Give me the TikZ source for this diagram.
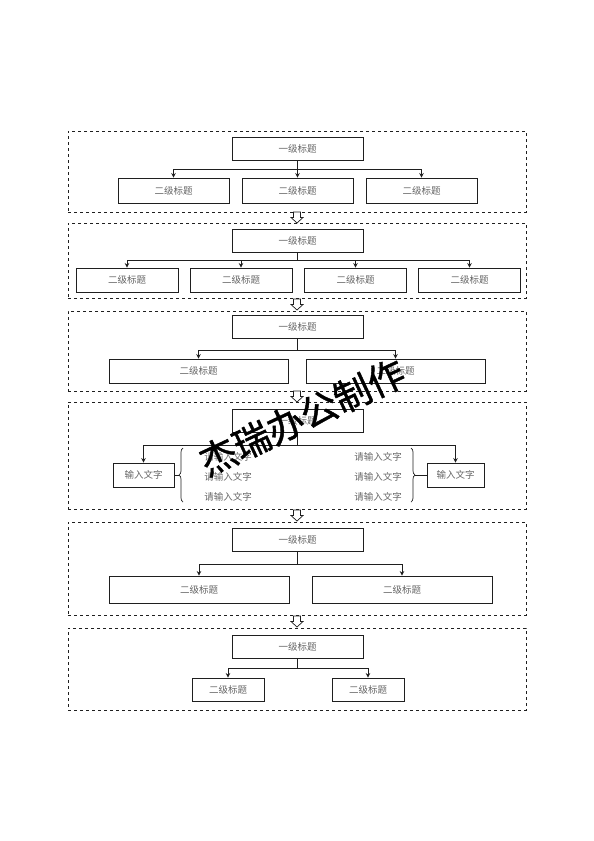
\documentclass[tikz,border=0pt]{standalone}
\usepackage{fontspec}
\newfontfamily\cjk{Noto Sans CJK SC}
\newfontfamily\stampfont{Noto Sans CJK SC}[FakeBold=1.2]
\usepackage{xcolor}
\usetikzlibrary{arrows.meta,calc,positioning,decorations.pathreplacing}
\definecolor{chartink}{gray}{0.12}
\definecolor{charttext}{gray}{0.4}
\definecolor{chartpaper}{gray}{1}

\begin{document}
\begin{tikzpicture}[x=1pt,y=-1pt,
  frame/.style={draw=chartink,dashed,line width=.7pt,inner sep=0pt,minimum width=458pt},
  head/.style={draw=chartink,line width=.9pt,fill=chartpaper,inner sep=0pt,
    minimum width=131pt,minimum height=23pt,font=\cjk\fontsize{9.5}{9.5}\selectfont,text=charttext},
  sub/.style={head,minimum width=111pt,minimum height=25pt},
  flow/.style={-{Stealth[length=4.5pt,width=4.5pt]},line width=.8pt,draw=chartink},
  hollow/.pic={\draw[draw=chartink,line width=.7pt,fill=chartpaper,line join=miter]
    (-3.5,-5.5) -- (3.5,-5.5) -- (3.5,0) -- (6,0) -- (0,5.5) -- (-6,0) -- (-3.5,0) -- cycle;},
  item/.style={font=\cjk\fontsize{9.5}{9.5}\selectfont,text=charttext},
  curly/.style={decorate,decoration={brace,amplitude=4pt},line width=.7pt,draw=chartink},
  stamp/.style={font=\stampfont\fontsize{37}{37}\selectfont,rotate=25,inner sep=0pt}]
\useasboundingbox (0,0) rectangle (594,841);
% dashed frames
\node[frame,minimum height=81pt] (f1) at (297,171.5) {};
\node[frame,minimum height=75pt] (f2) at (297,260.5) {};
\node[frame,minimum height=80pt] (f3) at (297,351) {};
\node[frame,minimum height=107pt] (f4) at (297,455.5) {};
\node[frame,minimum height=93pt] (f5) at (297,568.5) {};
\node[frame,minimum height=82pt] (f6) at (297,669) {};
% hollow arrows between frames
\coordinate (a1) at ($(f1.south)!.5!(f2.north)$);
\coordinate (a2) at ($(f2.south)!.5!(f3.north)$);
\coordinate (a3) at ($(f3.south)!.5!(f4.north)$);
\coordinate (a4) at ($(f4.south)!.5!(f5.north)$);
\coordinate (a5) at ($(f5.south)!.5!(f6.north)$);
\pic at (a1) {hollow};
\pic at (a2) {hollow};
\pic at (a3) {hollow};
\pic at (a4) {hollow};
\pic at (a5) {hollow};
% block 1
\node[head] (t1) at (297.5,148.5) {一级标题};
\node[sub] (c11) at (173.5,190.5) {二级标题};
\node[sub] (c12) at (297.5,190.5) {二级标题};
\node[sub] (c13) at (421.5,190.5) {二级标题};
\draw[flow] (t1.south) -- ++(0,9) -| (c11.north);
\draw[flow] (t1.south) -- (c12.north);
\draw[flow] (t1.south) -- ++(0,9) -| (c13.north);
% block 2
\node[head] (t2) at (297.5,240.5) {一级标题};
\node[sub,minimum width=102pt,minimum height=24pt] (c21) at (127,280) {二级标题};
\node[sub,minimum width=102pt,minimum height=24pt] (c22) at (241,280) {二级标题};
\node[sub,minimum width=102pt,minimum height=24pt] (c23) at (355.5,280) {二级标题};
\node[sub,minimum width=102pt,minimum height=24pt] (c24) at (469.5,280) {二级标题};
\draw[flow] (t2.south) -- ++(0,8) -| (c21.north);
\draw[flow] (t2.south) -- ++(0,8) -| (c22.north);
\draw[flow] (t2.south) -- ++(0,8) -| (c23.north);
\draw[flow] (t2.south) -- ++(0,8) -| (c24.north);
% block 3
\node[head] (t3) at (297.5,327) {一级标题};
\node[sub,minimum width=179pt,minimum height=24pt] (c31) at (198.5,371) {二级标题};
\node[sub,minimum width=179pt,minimum height=24pt] (c32) at (395.5,371) {二级标题};
\draw[flow] (t3.south) -- ++(0,11) -| (c31.north);
\draw[flow] (t3.south) -- ++(0,11) -| (c32.north);
% block 4
\node[head] (t4) at (297.5,420.5) {一级标题};
\node[sub,minimum width=61pt,minimum height=24pt] (in1) at (143.5,475) {输入文字};
\node[sub,minimum width=57pt,minimum height=24pt] (in2) at (455.5,475) {输入文字};
\draw[flow] (t4.south) -- ++(0,13) -| (in1.north);
\draw[flow] (t4.south) -- ++(0,13) -| (in2.north);
\draw[curly] (183,502) -- coordinate[xshift=-4pt] (b1) (183,448);
\draw[curly] (411,448) -- coordinate[xshift=4pt] (b2) (411,502);
\draw[line width=.7pt,draw=chartink] (in1.east) -- (b1);
\draw[line width=.7pt,draw=chartink] (in2.west) -- (b2);
\node[item] (l1) at (228,457) {请输入文字};
\node[item] (l2) at (228,477) {请输入文字};
\node[item] (l3) at (228,497) {请输入文字};
\node[item] (r1) at (378,457) {请输入文字};
\node[item] (r2) at (378,477) {请输入文字};
\node[item] (r3) at (378,497) {请输入文字};
% block 5
\node[head] (t5) at (297.5,539.5) {一级标题};
\node[sub,minimum width=180pt,minimum height=27pt] (c51) at (199,589.5) {二级标题};
\node[sub,minimum width=180pt,minimum height=27pt] (c52) at (402,589.5) {二级标题};
\draw[flow] (t5.south) -- ++(0,13) -| (c51.north);
\draw[flow] (t5.south) -- ++(0,13) -| (c52.north);
% block 6
\node[head] (t6) at (297.5,646.5) {一级标题};
\node[sub,minimum width=72pt,minimum height=23pt] (c61) at (228,689.5) {二级标题};
\node[sub,minimum width=72pt,minimum height=23pt] (c62) at (368,689.5) {二级标题};
\draw[flow] (t6.south) -- ++(0,10) -| (c61.north);
\draw[flow] (t6.south) -- ++(0,10) -| (c62.north);
% watermark
\node[stamp] (mark) at (302,417) {杰瑞办公制作};
\end{tikzpicture}
\end{document}
